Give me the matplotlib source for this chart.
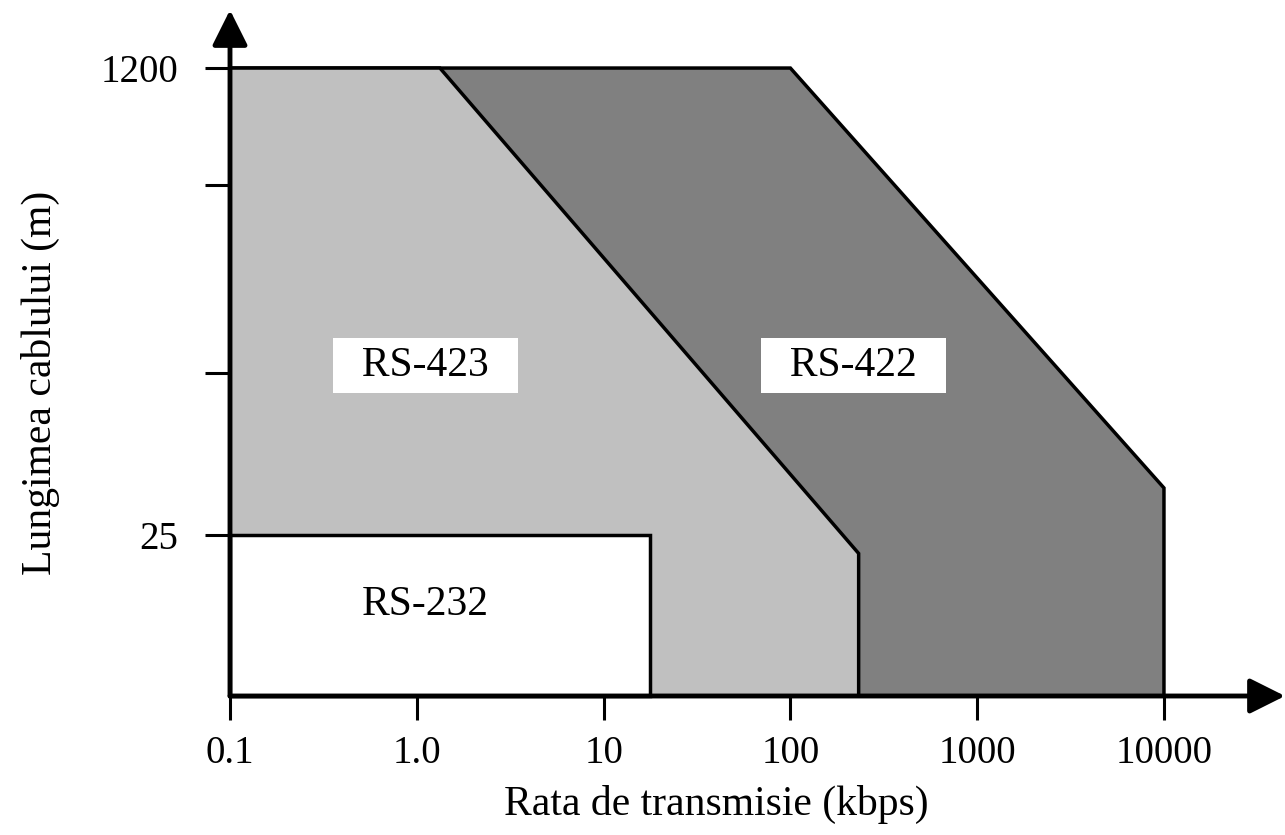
import matplotlib.pyplot as plt
from matplotlib.ticker import NullLocator

plt.rcParams['font.family'] = ['Liberation Serif', 'DejaVu Serif']

# x axis: transmission rate (kbps), log scale
rates = [0.1, 1.0, 10, 100, 1000, 10000]
rate_labels = ['0.1', '1.0', '10', '100', '1000', '10000']
# y axis: cable length (m), schematic log scale
length_ticks = [25, 96, 455, 1200]
length_labels = ['25', '', '', '1200']

y_floor = 6.6
rs422_x = [0.1, 0.1, 100, 10000, 10000]
rs422_y = [y_floor, 1200, 1200, 37, y_floor]
rs423_x = [0.1, 0.1, 1.33, 232, 232]
rs423_y = [y_floor, 1200, 1200, 21.5, y_floor]
rs232_x = [0.1, 0.1, 17.8, 17.8]
rs232_y = [y_floor, 25, 25, y_floor]

names = ['RS-422', 'RS-423', 'RS-232']
label_x = [218, 1.11, 1.11]
label_y = [102, 102, 14.0]
label_box = [True, True, False]

fig = plt.figure(figsize=(12.85, 8.35), dpi=100)
ax = fig.add_axes([230 / 1285, 139 / 835, 1055 / 1285, 686 / 835])
ax.set_xscale('log')
ax.set_yscale('log')
ax.set_xlim(0.1, 44460)
ax.set_ylim(y_floor, 1941)

ax.fill(rs422_x, rs422_y, facecolor='#808080', edgecolor='black', lw=2.5, clip_on=False)
ax.fill(rs423_x, rs423_y, facecolor='#c0c0c0', edgecolor='black', lw=2.5, clip_on=False)
ax.fill(rs232_x, rs232_y, facecolor='white', edgecolor='black', lw=2.5, clip_on=False)

for name, x, y, boxed in zip(names, label_x, label_y, label_box):
    if boxed:
        ax.text(x, y, '  ' + name + '  ', ha='center', va='center', fontsize=30, zorder=5,
                bbox=dict(boxstyle='square,pad=0.2', fc='white', ec='none'))
    else:
        ax.text(x, y, name, ha='center', va='center', fontsize=30, zorder=5)

for s in ax.spines.values():
    s.set_visible(False)

arrow = dict(arrowstyle='-|>,head_length=0.4,head_width=0.2', lw=3.5, color='black',
             mutation_scale=54, shrinkA=0, shrinkB=0)
ax.annotate('', xy=(1, 0), xytext=(0, 0), xycoords='axes fraction', arrowprops=arrow,
            annotation_clip=False, zorder=6)
ax.annotate('', xy=(0, 1), xytext=(0, 0), xycoords='axes fraction', arrowprops=arrow,
            annotation_clip=False, zorder=6)

ax.set_xticks(rates, rate_labels)
ax.set_yticks(length_ticks, length_labels)
ax.xaxis.set_minor_locator(NullLocator())
ax.yaxis.set_minor_locator(NullLocator())
ax.tick_params(axis='x', direction='out', length=17, width=2.2, labelsize=28, pad=11)
ax.tick_params(axis='y', direction='out', length=18, width=2.2, labelsize=28, pad=19)

ax.set_xlabel('Rata de transmisie (kbps)', fontsize=30)
ax.set_ylabel('Lungimea cablului (m)', fontsize=30)
ax.xaxis.set_label_coords(0.461, -0.13)
ax.yaxis.set_label_coords(-0.161, 0.456)

fig.savefig('out.png', dpi=100)
